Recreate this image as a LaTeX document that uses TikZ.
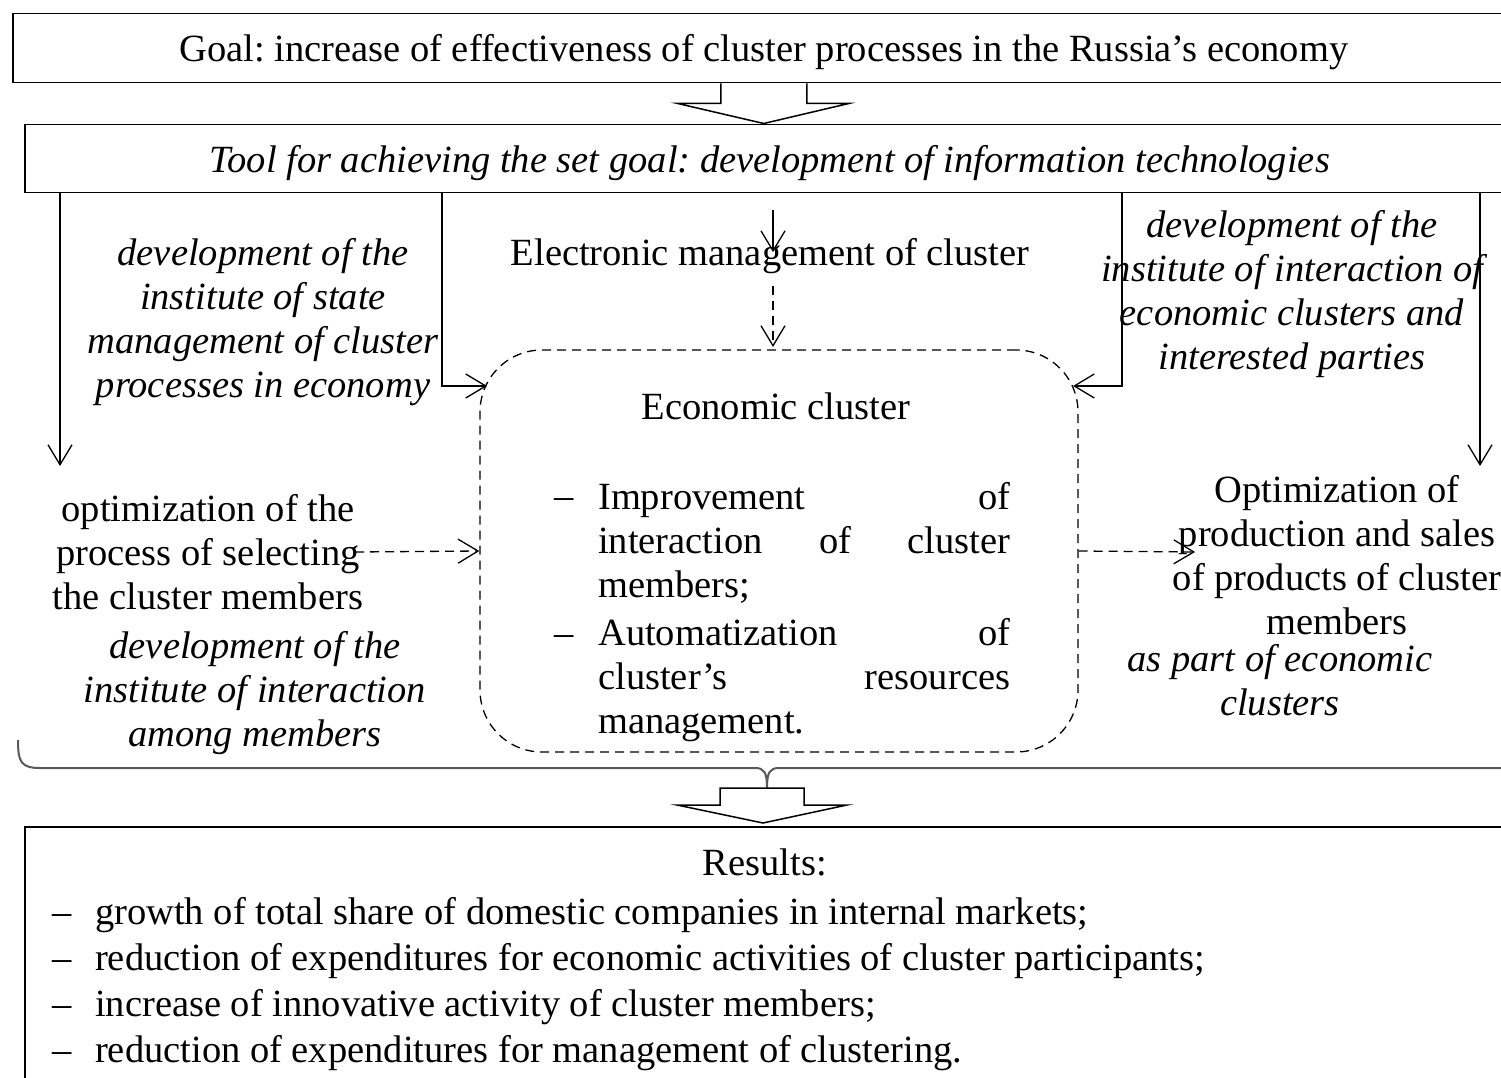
\documentclass[tikz,border=0pt]{standalone}
\usepackage{fontspec}
\setmainfont{Liberation Serif}
\usetikzlibrary{arrows.meta,positioning,calc}
\frenchspacing

\tikzstyle{box} = [draw, line width=1.5pt, rectangle, inner sep=0pt,
    text height=32pt, text depth=5pt, font=\fontsize{38.5}{44}\selectfont]
\tikzstyle{txt} = [align=center, inner sep=0pt, font=\fontsize{38.5}{44}\selectfont]
\tikzstyle{itxt} = [align=center, inner sep=0pt, font=\fontsize{38.5}{44}\selectfont\itshape]
\tikzstyle{arr} = [line width=1.3pt, -{Straight Barb[length=20pt,width=24pt,line width=1.3pt]}]
\tikzstyle{darr} = [arr, dash pattern=on 9pt off 6pt]
\tikzstyle{fatarrow} = [draw, line width=1.5pt, fill=white, line join=miter]

\begin{document}
\begin{tikzpicture}[x=1pt, y=-1pt]
          \useasboundingbox (0,0) rectangle (1501,1078);
          \clip (0,0) rectangle (1501,1078);

          % boxes
          \node (goal) [box, minimum width=1502pt, minimum height=69pt, anchor=north west] at (12,13)
              {Goal: increase of effectiveness of cluster processes in the Russia's economy};
          \node (tool) [box, minimum width=1490pt, minimum height=68pt, anchor=north west] at (24,124)
              {\itshape Tool for achieving the set goal: development of information technologies};
          \node (res) [draw, line width=1.5pt, minimum width=1490pt, minimum height=270pt,
              anchor=north west] at (24,826) {};

          \draw [fatarrow] ([xshift=-43pt]goal.south) -- ++(0,20) -- ++(-43,0) -- ++(86,20)
              -- ++(85,-20) -- ++(-42,0) -- ++(0,-20);

          % cluster
          \node (cluster) [draw, dash pattern=on 9pt off 6pt, line width=1.3pt, rounded corners=62pt,
              minimum width=598pt, minimum height=402pt] at (779,551) {};
          \node (ectitle) [txt] at (776,406) {Economic cluster};
          \node (imp) [txt, align=left, text width=412pt, anchor=west] at (598,543)
              {Improvement\hfill of\\ interaction\hfill of\hfill cluster\\ members;};
          \node (aut) [txt, align=left, text width=412pt, anchor=west] at (598,680)
              {Automatization\hfill of\\ cluster's\hfill resources\\ management.};
          \node (dash1) [txt, anchor=east] at (574,504) {--};
          \node (dash2) [txt, anchor=east] at (574,641) {--};

          % labels round the cluster
          \node (elec) [txt] at (770,256) {Electronic management of cluster};
          \node (stateinst) [itxt] at (263,322)
              {development of the\\ institute of state\\ management of cluster\\ processes in economy};
          \node (optsel) [txt] at (208,552)
              {optimization of the\\ process of selecting\\ the cluster members};
          \node (meminst) [itxt] at (255,693)
              {development of the\\ institute of interaction\\ among members};
          \node (ecoinst) [itxt] at (1292,294)
              {development of the\\ institute of interaction of\\ economic clusters and\\ interested parties};
          \node (optprod) [txt] at (1337,555)
              {Optimization of\\ production and sales\\ of products of cluster\\ members};
          \node (aspart) [itxt] at (1280,680) {as part of economic\\ clusters};

          % free ends
          \coordinate (t1) at ([xshift=36pt]tool.south west);
          \coordinate (t2) at ([xshift=418pt]tool.south west);
          \coordinate (t3) at ([xshift=1098pt]tool.south west);
          \coordinate (t4) at ([xshift=1456pt]tool.south west);
          \coordinate (t5) at ([xshift=749pt]tool.south west);
          \coordinate (lend) at (60,466);
          \coordinate (rend) at (1480,466);
          \coordinate (lin) at (487,386);
          \coordinate (rin) at (1073,386);
          \coordinate (cin) at (773,347);
          \coordinate (sel) at (355,552);
          \coordinate (prod) at (1195,552);

          \draw [arr] (t1) -- (lend);
          \draw [arr] (t4) -- (rend);
          \draw [arr] (t2) |- (lin);
          \draw [arr] (t3) |- (rin);
          \draw [arr, shorten <=16pt] (t5 -| cin) -- (elec.north -| cin) -- ++(0,14);
          \draw [darr, shorten <=12pt] (elec.south -| cin) -- (cin);
          \draw [darr] (sel) -- (cluster.west);
          \draw [darr] (cluster.east) -- (prod);

          % brace and second arrow
          \draw [line width=2pt, gray!70!black] (18,740) .. controls (18,762) and (21,768) .. (40,768)
              -- (755,768) .. controls (764,768) and (767,772) .. (767,788)
              .. controls (767,772) and (770,768) .. (779,768) -- (1510,768);
          \draw [fatarrow] (720,788) -- (804,788) -- (804,805) -- (847,805) -- (763,823)
              -- (677,805) -- (720,805) -- cycle;

          % results
          \node (restitle) [txt] at (765,862) {Results:};
          \node (reslist) [txt, align=left, anchor=north west, font=\fontsize{38.5}{46}\selectfont]
              at (52,897)
              {\makebox[43pt][l]{--}growth of total share of domestic companies in internal markets;\\
               \makebox[43pt][l]{--}reduction of expenditures for economic activities of cluster participants;\\
               \makebox[43pt][l]{--}increase of innovative activity of cluster members;\\
               \makebox[43pt][l]{--}reduction of expenditures for management of clustering.};
        \end{tikzpicture}
\end{document}
